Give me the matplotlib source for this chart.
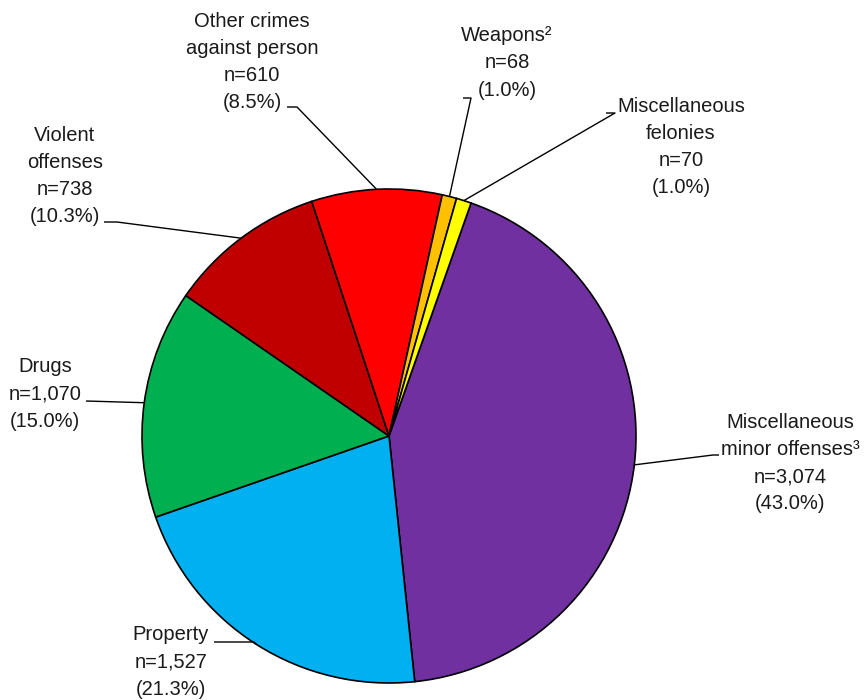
import matplotlib
matplotlib.use("Agg")
import matplotlib.pyplot as plt
import numpy as np

categories = ["Miscellaneous\nminor offenses\u00b3", "Property", "Drugs", "Violent\noffenses",
              "Other crimes\nagainst person", "Weapons\u00b2", "Miscellaneous\nfelonies"]
counts = [3074, 1527, 1070, 738, 610, 68, 70]
percents = ["43.0%", "21.3%", "15.0%", "10.3%", "8.5%", "1.0%", "1.0%"]
colors = ["#7030A0", "#00B0F0", "#00B050", "#C00000", "#FF0000", "#FFC000", "#FFFF00"]

# layout (pixel coordinates, y from top)
W, H = 866, 700
cx, cy, R = 389, 436, 247
text_pos = [(790, 463), (171, 662), (45, 394), (65, 176), (252, 62), (507, 63), (681, 147)]
elbows = [(713, 455), (254, 642), (86, 401), (117, 222), (297, 107), (471, 98), (615, 113)]
hends = [719, 214, 86, 104, 287, 463, 606]

plt.rcParams['font.family'] = ['Liberation Sans', 'DejaVu Sans']
fig = plt.figure(figsize=(W / 100, H / 100), dpi=100)
ax = fig.add_axes([0, 0, 1, 1])

wedges, _ = ax.pie(counts, colors=colors, startangle=70.6, counterclock=False,
                   center=(cx, H - cy), radius=R, frame=True,
                   wedgeprops=dict(edgecolor="black", linewidth=1.2))
ax.set_xlim(0, W)
ax.set_ylim(0, H)
ax.set_aspect("equal")
ax.axis("off")

for w, cat, n, p, tp, el, he in zip(wedges, categories, counts, percents, text_pos, elbows, hends):
    mid = np.deg2rad((w.theta1 + w.theta2) / 2)
    ex = cx + R * np.cos(mid)
    ey = (H - cy) + R * np.sin(mid)
    ax.plot([ex, el[0], he], [ey, H - el[1], H - el[1]], color="black", lw=1.0,
            solid_capstyle="butt", zorder=5)
    label = f"{cat}\nn={n:,}\n({p})"
    ax.text(tp[0], H - tp[1], label, ha="center", va="center", fontsize=14.5,
            linespacing=1.55, color="#1a1a1a")

fig.savefig("out.png", dpi=100)
